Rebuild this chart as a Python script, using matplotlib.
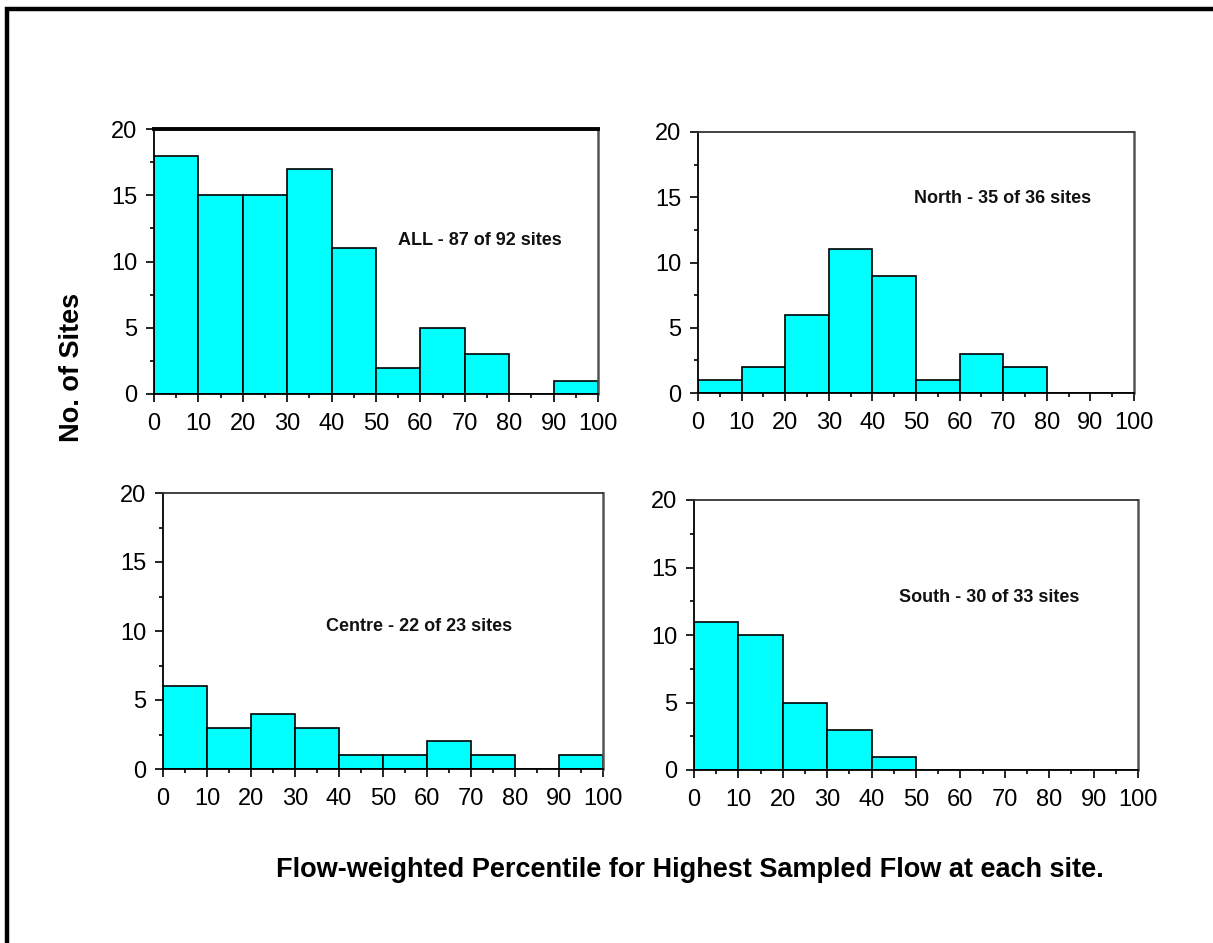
import numpy as np
import matplotlib
matplotlib.use("Agg")
import matplotlib.pyplot as plt
from matplotlib.ticker import MultipleLocator
from matplotlib.patches import Rectangle

plt.rcParams['font.family'] = ['Liberation Sans', 'DejaVu Sans']

# 10% percentile bins
bin_edges = np.arange(0, 101, 10)
x_ticks = list(range(0, 101, 10))
y_ticks = [0, 5, 10, 15, 20]

counts_all = [18, 15, 15, 17, 11, 2, 5, 3, 0, 1]
counts_north = [1, 2, 6, 11, 9, 1, 3, 2, 0, 0]
counts_centre = [6, 3, 4, 3, 1, 1, 2, 1, 0, 1]
counts_south = [11, 10, 5, 3, 1, 0, 0, 0, 0, 0]

labels = ["ALL - 87 of 92 sites", "North - 35 of 36 sites",
          "Centre - 22 of 23 sites", "South - 30 of 33 sites"]
label_pos = [(55, 11.6), (49.5, 14.9), (37, 10.3), (46.2, 12.8)]

W, H = 1213, 943
fig = plt.figure(figsize=(W / 100, H / 100), dpi=100)

# panel boxes in pixels: left, right, top, bottom
boxes = [(154, 598, 129, 394), (698, 1134, 132, 393),
         (163, 603, 493, 769), (694, 1138, 500, 770)]
series = [counts_all, counts_north, counts_centre, counts_south]

for i, (box, counts) in enumerate(zip(boxes, series)):
    l, r, t, b = box
    ax = fig.add_axes([l / W, 1 - b / H, (r - l) / W, (b - t) / H])
    ax.bar(bin_edges[:-1], counts, width=10, align="edge", color="#00FFFF",
           edgecolor="black", linewidth=1.2)
    ax.set_xlim(0, 100)
    ax.set_ylim(0, 20)
    ax.set_xticks(x_ticks)
    ax.set_yticks(y_ticks)
    ax.xaxis.set_minor_locator(MultipleLocator(5))
    ax.yaxis.set_minor_locator(MultipleLocator(2.5))
    ax.tick_params(axis="both", which="major", length=6, width=1.2,
                   labelsize=17, colors="black")
    ax.tick_params(axis="x", which="major", pad=8)
    ax.tick_params(axis="y", which="major", pad=6)
    ax.tick_params(axis="both", which="minor", length=3, width=1.2)
    for side in ["left", "bottom"]:
        ax.spines[side].set_linewidth(1.3)
        ax.spines[side].set_color("black")
    ax.spines["top"].set_color("#333333")
    ax.spines["top"].set_linewidth(1.3)
    ax.spines["right"].set_color("#555555")
    ax.spines["right"].set_linewidth(1.8)
    if i == 0:
        ax.spines["top"].set_color("black")
        ax.spines["top"].set_linewidth(2.8)
    tx, ty = label_pos[i]
    ax.text(tx, ty, labels[i], fontsize=13, fontweight="bold",
            ha="left", va="center", color="#111111")

fig.text(72 / W, 1 - 367 / H, "No. of Sites", rotation=90, fontsize=19.5,
         fontweight="bold", ha="center", va="center")
fig.text(690 / W, 1 - 870 / H,
         "Flow-weighted Percentile for Highest Sampled Flow at each site.",
         fontsize=19.5, fontweight="bold", ha="center", va="center")

# outer frame (left and top edges visible)
fig.patches.append(Rectangle((6.5 / W, -0.1), 1.2, 1 - 9 / H + 0.1,
                             transform=fig.transFigure, fill=False,
                             edgecolor="black", linewidth=3.2))

fig.savefig("out.png", dpi=100)
